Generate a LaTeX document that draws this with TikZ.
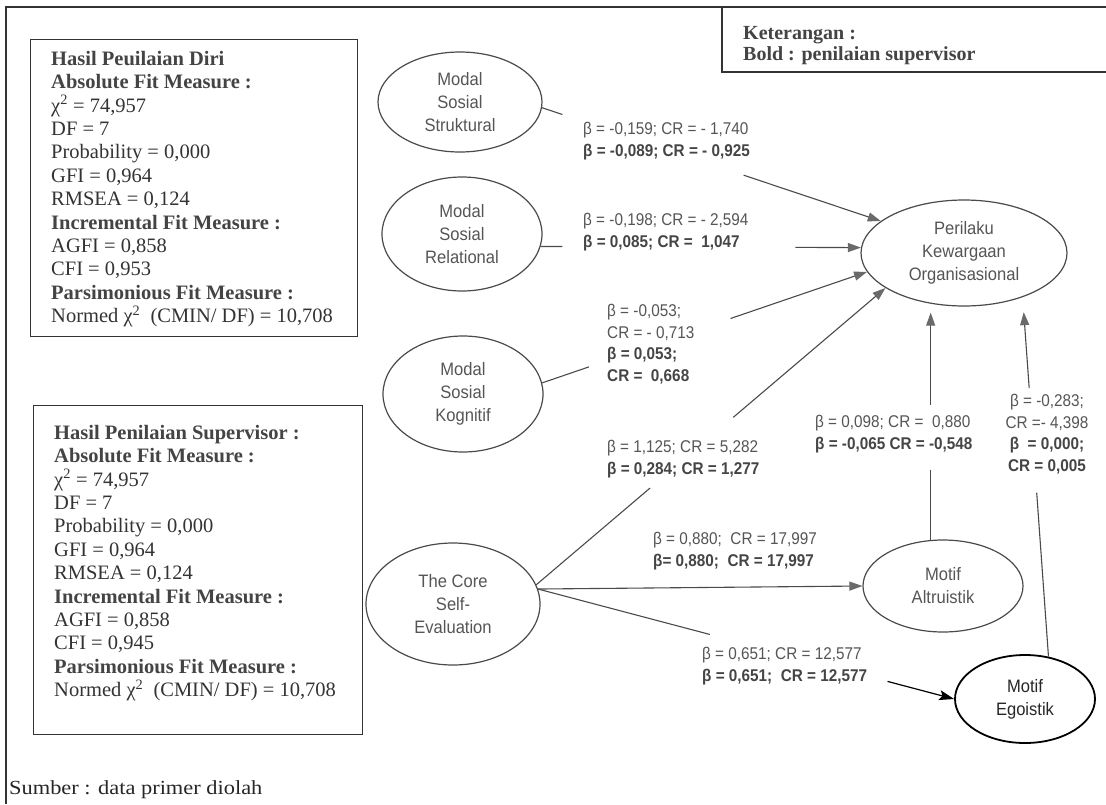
\documentclass[tikz,border=0pt]{standalone}
\usepackage{fontspec}
\setmainfont{Liberation Serif}
\newfontfamily\labfont[FakeStretch=0.9]{Liberation Sans}
\newfontfamily\elfont[FakeStretch=0.92]{Liberation Sans}
\newfontfamily\sumfont[FakeStretch=1.12]{Liberation Serif}
\usetikzlibrary{arrows.meta,shapes.geometric,calc}
\definecolor{ink}{HTML}{333333}
\definecolor{hdc}{HTML}{444444}
\definecolor{lab}{HTML}{555555}
\definecolor{labb}{HTML}{454545}
\definecolor{edge}{HTML}{4A4A4A}
\definecolor{tipc}{HTML}{6A6A6A}
\newcommand{\hdtxt}[1]{{\bfseries\color{hdc}#1}}
\newcommand{\bl}[1]{{\bfseries\color{labb}#1}}
\tikzset{
  frame/.style={draw=ink, line width=1.1pt},
  fitbox/.style={draw=ink, line width=1.1pt, inner sep=0pt, anchor=north west},
  boxtxt/.style={inner sep=0pt, align=left, text=ink, font=\fontsize{20.5}{23.4}\selectfont},
  kettext/.style={inner sep=0pt, align=left, text=hdc, font=\bfseries\fontsize{20}{21}\selectfont},
  lat/.style={ellipse, draw=edge, line width=1.2pt, inner sep=0pt, align=center, text=lab, font=\elfont\fontsize{18}{23}\selectfont},
  lbl/.style={inner sep=0pt, align=left, text=lab, font=\labfont\fontsize{17}{21.5}\selectfont},
  conn/.style={draw=edge, line width=1.1pt},
  arr/.style={conn, -{Triangle[length=13pt,width=9pt,color=tipc]}},
  arrk/.style={draw=black, line width=1.2pt, -{Stealth[length=15pt,width=10pt,inset=3pt]}},
}
\begin{document}
\begin{tikzpicture}[x=1pt,y=-1pt]
\useasboundingbox (0,0) rectangle (1106,804);
% outer frame and legend box
\draw[frame] (1106,7) -- (6,7) -- (6,804);
\draw[frame] (722,7) -- (722,72) -- (1106,72);
\node[kettext, anchor=west] (ket) at (743,46) {Keterangan :\\Bold : penilaian supervisor};

% fit boxes
\node[fitbox, minimum width=327pt, minimum height=297pt] (B1) at (30,39) {};
\node[boxtxt, anchor=west] (T1) at ([xshift=21pt,yshift=-1pt]B1.west) {\hdtxt{Hasil Peuilaian Diri}\\
\hdtxt{Absolute Fit Measure :}\\
χ\textsuperscript{2} = 74,957\\
DF = 7\\
Probability = 0,000\\
GFI = 0,964\\
RMSEA = 0,124\\
\hdtxt{Incremental Fit Measure :}\\
AGFI = 0,858\\
CFI = 0,953\\
\hdtxt{Parsimonious Fit Measure :}\\
Normed χ\textsuperscript{2}\ \ (CMIN/ DF) = 10,708};

\node[fitbox, minimum width=329pt, minimum height=329pt] (B2) at (33,405) {};
\node[boxtxt, anchor=west] (T2) at ([xshift=21pt,yshift=7pt]B2.west) {\hdtxt{Hasil Penilaian Supervisor :}\\
\hdtxt{Absolute Fit Measure :}\\
χ\textsuperscript{2} = 74,957\\
DF = 7\\
Probability = 0,000\\
GFI = 0,964\\
RMSEA = 0,124\\
\hdtxt{Incremental Fit Measure :}\\
AGFI = 0,858\\
CFI = 0,945\\
\hdtxt{Parsimonious Fit Measure :}\\
Normed χ\textsuperscript{2}\ \ (CMIN/ DF) = 10,708};

% latent variables
\node[lat, minimum width=164pt, minimum height=100pt] (S) at (460,102) {Modal\\Sosial\\Struktural};
\node[lat, minimum width=160pt, minimum height=114pt] (R) at (462,234) {Modal\\Sosial\\Relational};
\node[lat, minimum width=160pt, minimum height=116pt] (K) at (463,394) {Modal\\Sosial\\Kognitif};
\node[lat, minimum width=174pt, minimum height=122pt] (C) at (453,604) {The Core\\Self-\\Evaluation};
\node[lat, minimum width=206pt, minimum height=106pt] (P) at (964,253) {Perilaku\\Kewargaan\\Organisasional};
\node[lat, minimum width=160pt, minimum height=92pt] (A) at (943,586) {Motif\\Altruistik};
\node[lat, draw=black, line width=1.8pt, text=black!85, minimum width=140pt, minimum height=88pt] (E) at (1025,699) {Motif\\Egoistik};

% broken connectors
\coordinate (s1) at ($(S.-4)!0.06!(P.159)$);
\coordinate (s2) at ($(S.-4)!0.595!(P.159)$);
\draw[conn] (S.-4) -- (s1);
\draw[arr] (s2) -- (P.159);

\coordinate (r1) at ($(R.-9)!0.068!(P.177)$);
\coordinate (r2) at ($(R.-9)!0.795!(P.177)$);
\draw[conn] (R.-9) -- (r1);
\draw[arr] (r2) -- (P.177);

\coordinate (k1) at ($(K.8)!0.144!(P.191)$);
\coordinate (k2) at ($(K.8)!0.58!(P.191)$);
\draw[conn] (K.8) -- (k1);
\draw[arr] (k2) -- (P.191);

\coordinate (c1) at ($(C.13)!0.326!(P.204)$);
\coordinate (c2) at ($(C.13)!0.564!(P.204)$);
\draw[conn] (C.13) -- (c1);
\draw[arr] (c2) -- (P.204);

\draw[arr] (C.10) -- (A.west);

\coordinate (e1) at ($(C.10)!0.413!(E.west)$);
\coordinate (e2) at ($(C.10)!0.84!(E.west)$);
\draw[conn] (C.10) -- (e1);
\draw[arrk] (e2) -- (E.west);

\coordinate (a1) at ($(A.105)+(0,-70)$);
\coordinate (a2) at ($(A.105)+(0,-135)$);
\draw[conn] (A.105) -- (a1);
\draw[arr, shorten >=6pt] (a2) -- (a2 |- P.south);

\coordinate (g1) at ($(E.61)!0.456!(P.323)$);
\coordinate (g2) at ($(E.61)!0.747!(P.323)$);
\draw[conn] (E.61) -- (g1);
\draw[arr, shorten >=15pt] (g2) -- (P.323);

% path labels
\node[lbl, anchor=west] (L1) at (583,141) {β = -0,159; CR = - 1,740\\ \bl{β = -0,089; CR = - 0,925}};
\node[lbl, anchor=west] (L2) at (583,232) {β = -0,198; CR = - 2,594\\ \bl{β = 0,085; CR = \ 1,047}};
\node[lbl, anchor=west] (L3) at (607,344) {β = -0,053;\\ CR = - 0,713\\ \bl{β = 0,053;}\\ \bl{CR = \ 0,668}};
\node[lbl, anchor=west] (L4) at (607,459) {β = 1,125; CR = 5,282\\ \bl{β = 0,284; CR = 1,277}};
\node[lbl, anchor=west] (L5) at (815,434) {β = 0,098; CR = \ 0,880\\ \bl{β = -0,065 CR = -0,548}};
\node[lbl, align=center] (L6) at (1047,434) {β = -0,283;\\ CR =- 4,398\\ \bl{β \ = 0,000;}\\ \bl{CR = 0,005}};
\node[lbl, anchor=west] (L7) at (653,551) {β = 0,880; \ CR = 17,997\\ \bl{β= 0,880; \ CR = 17,997}};
\node[lbl, anchor=west] (L8) at (702,666) {β = 0,651; CR = 12,577\\ \bl{β = 0,651; \ CR = 12,577}};

% source
\node[inner sep=0pt, anchor=west, text=black!85, font=\sumfont\fontsize{20}{24}\selectfont] (src) at (9,790) {Sumber : data primer diolah};
\end{tikzpicture}
\end{document}
